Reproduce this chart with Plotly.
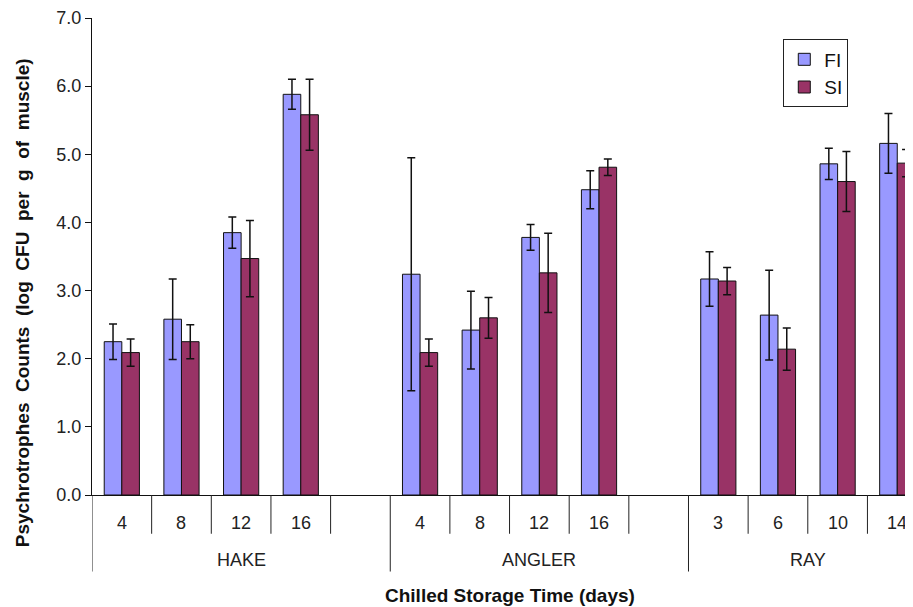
import plotly.graph_objects as go

# ---- data ----
species = ["HAKE", "ANGLER", "RAY"]
days = [["4", "8", "12", "16"], ["4", "8", "12", "16"], ["3", "6", "10", "14"]]
fi_values = [[2.25, 2.58, 3.85, 5.88], [3.24, 2.42, 3.78, 4.48], [3.17, 2.64, 4.86, 5.16]]
fi_errors = [[0.26, 0.59, 0.23, 0.22], [1.71, 0.57, 0.19, 0.28], [0.40, 0.66, 0.23, 0.44]]
si_values = [[2.09, 2.25, 3.47, 5.58], [2.09, 2.60, 3.26, 4.81], [3.14, 2.14, 4.60, 4.87]]
si_errors = [[0.20, 0.25, 0.56, 0.52], [0.20, 0.30, 0.58, 0.12], [0.20, 0.31, 0.44, 0.20]]
y_ticks = [0, 1, 2, 3, 4, 5, 6, 7]

SLOTS_PER_GROUP = 5  # 4 days + one empty slot between groups

xs, fi_y, fi_e, si_y, si_e, labels = [], [], [], [], [], []
for g, sp in enumerate(species):
    for k, d in enumerate(days[g]):
        xs.append(g * SLOTS_PER_GROUP + k)
        labels.append(d)
        fi_y.append(fi_values[g][k]); fi_e.append(fi_errors[g][k])
        si_y.append(si_values[g][k]); si_e.append(si_errors[g][k])

FONT = "Liberation Sans, Arial, Helvetica, sans-serif"

fig = go.Figure()
fig.add_trace(go.Bar(
    x=xs, y=fi_y, name="FI",
    marker=dict(color="#9999FF", line=dict(color="#111111", width=1)),
    error_y=dict(type="data", array=fi_e, visible=True, color="#111111", thickness=1.5, width=4),
))
fig.add_trace(go.Bar(
    x=xs, y=si_y, name="SI",
    marker=dict(color="#993366", line=dict(color="#111111", width=1)),
    error_y=dict(type="data", array=si_e, visible=True, color="#111111", thickness=1.5, width=4),
))

plot_h = 480.0
annotations = []
shapes = []
# sub-category labels
for x, lab in zip(xs, labels):
    annotations.append(dict(x=x, y=0, xref="x", yref="paper", text=lab, showarrow=False,
                            yanchor="middle", yshift=-28,
                            font=dict(family=FONT, size=18, color="#222222")))
# group labels (last group has no trailing empty slot)
n_groups = len(species)
for g, sp in enumerate(species):
    n_in = SLOTS_PER_GROUP if g < n_groups - 1 else len(days[g])
    center = g * SLOTS_PER_GROUP + (n_in - 1) / 2.0
    annotations.append(dict(x=center, y=0, xref="x", yref="paper", text=sp, showarrow=False,
                            yanchor="middle", yshift=-65,
                            font=dict(family=FONT, size=18, color="#222222")))
# dividers
n_slots = SLOTS_PER_GROUP * n_groups
for b in range(n_slots):
    pos = b - 0.5
    is_group = (b % SLOTS_PER_GROUP == 0)
    depth = 77 if is_group else 39
    shapes.append(dict(type="line", xref="x", yref="paper", x0=pos, x1=pos,
                       y0=0, y1=-depth / plot_h, line=dict(color="#222222", width=1)))

# axis titles
annotations.append(dict(x=6.5, y=0, xref="x", yref="paper",
                        text="Chilled Storage Time (days)", showarrow=False,
                        yanchor="middle", yshift=-100,
                        font=dict(family=FONT, size=19, color="#111111", weight="bold")))
annotations.append(dict(x=0, y=(487 - 294) / plot_h, xref="paper", yref="paper",
                        text="Psychrotrophes\u00a0 Counts\u00a0 (log\u00a0 CFU\u00a0 per\u00a0 g\u00a0 of\u00a0 muscle)",
                        showarrow=False, textangle=-90, xanchor="center", yanchor="middle",
                        xshift=-70,
                        font=dict(family=FONT, size=19, color="#111111", weight="bold")))

fig.update_layout(
    width=905, height=599,
    margin=dict(l=84, r=0, t=7, b=112),
    paper_bgcolor="white", plot_bgcolor="white",
    barmode="group", bargap=0.41, bargroupgap=0,
    showlegend=True,
    legend=dict(x=0.842, y=0.955, xanchor="left", yanchor="top",
                bordercolor="#222222", borderwidth=1, bgcolor="white",
                font=dict(family=FONT, size=19, color="#111111"),
                itemwidth=30, tracegroupgap=0),
    xaxis=dict(range=[-0.5, -0.5 + (913 - 91.3) / 59.7], showticklabels=False, ticks="",
               showline=True, linecolor="#111111", linewidth=1, showgrid=False, zeroline=False,
               fixedrange=True),
    yaxis=dict(range=[0, 7], tickvals=y_ticks, tickformat=".1f", ticks="outside", ticklen=6,
               tickcolor="#111111", showline=True, linecolor="#111111", linewidth=1,
               showgrid=False, zeroline=False, ticklabeloverflow="allow",
               tickfont=dict(family=FONT, size=18, color="#222222")),
    annotations=annotations, shapes=shapes,
    font=dict(family=FONT),
)

fig.write_html("out.html")
